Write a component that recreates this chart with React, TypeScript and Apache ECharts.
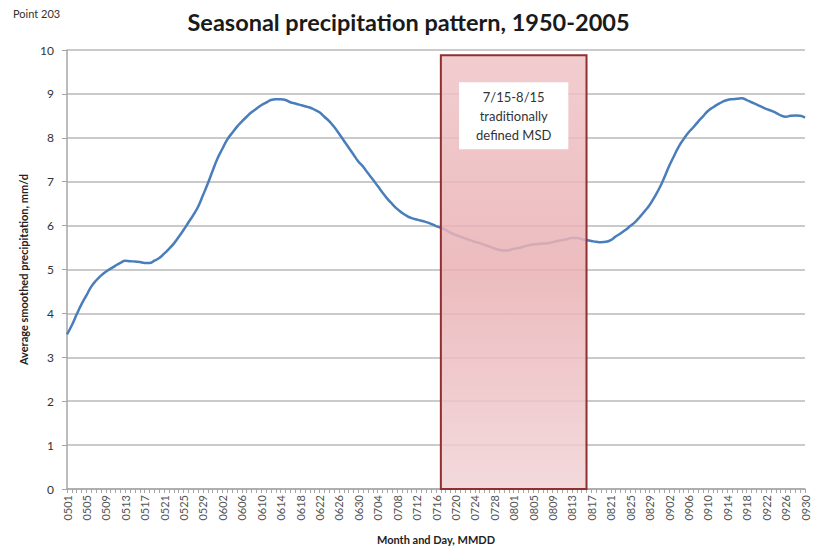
import React, { useEffect, useRef } from "react";
import * as echarts from "echarts";

const monthDays: [string, number][] = [["05", 31], ["06", 30], ["07", 31], ["08", 31], ["09", 30]];
const categories: string[] = [];
monthDays.forEach(([m, n]) => {
  for (let d = 1; d <= n; d++) categories.push(m + (d < 10 ? "0" + d : String(d)));
});

const precip: number[] = [
  3.52, 3.73, 3.98, 4.21, 4.41, 4.61, 4.75, 4.86, 4.95, 5.02,
  5.09, 5.15, 5.20, 5.19, 5.18, 5.17, 5.15, 5.15, 5.20, 5.26,
  5.36, 5.47, 5.59, 5.74, 5.90, 6.07, 6.24, 6.43, 6.69, 6.96,
  7.25, 7.53, 7.75, 7.96, 8.11, 8.25, 8.37, 8.48, 8.58, 8.66,
  8.74, 8.80, 8.86, 8.88, 8.88, 8.86, 8.81, 8.78, 8.75, 8.72,
  8.69, 8.64, 8.58, 8.48, 8.38, 8.25, 8.10, 7.94, 7.78, 7.62,
  7.46, 7.34, 7.19, 7.05, 6.90, 6.75, 6.61, 6.49, 6.38, 6.29,
  6.22, 6.17, 6.14, 6.11, 6.08, 6.04, 5.99, 5.95, 5.90, 5.84,
  5.79, 5.75, 5.71, 5.67, 5.63, 5.60, 5.56, 5.52, 5.48, 5.45,
  5.43, 5.44, 5.47, 5.49, 5.52, 5.55, 5.57, 5.58, 5.59, 5.60,
  5.62, 5.65, 5.67, 5.69, 5.72, 5.72, 5.69, 5.67, 5.65, 5.63,
  5.62, 5.63, 5.67, 5.75, 5.82, 5.90, 5.99, 6.08, 6.20, 6.33,
  6.47, 6.65, 6.85, 7.09, 7.35, 7.58, 7.80, 7.97, 8.12, 8.24,
  8.37, 8.49, 8.61, 8.69, 8.76, 8.82, 8.86, 8.88, 8.89, 8.90,
  8.86, 8.81, 8.76, 8.71, 8.66, 8.62, 8.57, 8.51, 8.48, 8.50,
  8.51, 8.50, 8.46,
];

const msdStart = "0717";
const msdEnd = "0816";
const msdTop = 9.88;
const msdLabel = "7/15-8/15\ntraditionally\ndefined MSD";

const FONT = "Lato, 'Open Sans', sans-serif";

export default function App() {
  const ref = useRef<HTMLDivElement>(null);
  useEffect(() => {
    if (!ref.current) return;
    const chart = echarts.init(ref.current, undefined, { renderer: "svg" });
    chart.setOption({
      animation: false,
      textStyle: { fontFamily: FONT },
      title: [
        {
          text: "Seasonal precipitation pattern, 1950-2005",
          left: "center",
          top: 5,
          textStyle: { fontSize: 23.5, fontWeight: "bold", color: "#1a1a1a", fontFamily: FONT },
        },
        {
          text: "Point 203",
          left: 8,
          top: 3,
          textStyle: { fontSize: 11, fontWeight: "normal", color: "#333", fontFamily: FONT },
        },
      ],
      grid: { left: 67, right: 12, top: 50, bottom: 58, containLabel: false, outerBoundsMode: "none" },
      xAxis: {
        type: "category",
        data: categories,
        boundaryGap: false,
        name: "Month and Day, MMDD",
        nameLocation: "middle",
        nameGap: 45,
        nameTextStyle: { fontSize: 11, fontWeight: "bold", color: "#222", fontFamily: FONT },
        axisLine: { lineStyle: { color: "#a6a6a6", width: 1.5 } },
        axisTick: { show: true, interval: 0, length: 4, lineStyle: { color: "#a6a6a6" } },
        axisLabel: { interval: 3, rotate: 90, fontSize: 11, color: "#555", margin: 6, fontFamily: FONT },
        splitLine: { show: false },
      },
      yAxis: {
        type: "value",
        min: 0,
        max: 10,
        interval: 1,
        name: "Average smoothed precipitation, mm/d",
        nameLocation: "middle",
        nameGap: 37,
        nameTextStyle: { fontSize: 11, fontWeight: "bold", color: "#222", fontFamily: FONT },
        axisLine: { show: true, lineStyle: { color: "#a6a6a6", width: 1.5 } },
        axisTick: { show: true, length: 5, lineStyle: { color: "#a6a6a6" } },
        axisLabel: { fontSize: 12, color: "#333", margin: 13, fontFamily: FONT },
        splitLine: { lineStyle: { color: "#b8b8b8", width: 1.5 } },
      },
      series: [
        {
          type: "line",
          data: precip,
          smooth: true,
          showSymbol: false,
          lineStyle: { color: "#4a7ebb", width: 2.5 },
          z: 2,
          markArea: {
            z: 10,
            silent: true,
            itemStyle: {
              color: {
                type: "linear",
                x: 0, y: 0, x2: 0, y2: 1,
                colorStops: [
                  { offset: 0, color: "rgba(239,196,199,0.85)" },
                  { offset: 0.5, color: "rgba(233,176,179,0.85)" },
                  { offset: 1, color: "rgba(241,211,214,0.85)" },
                ],
              },
              borderColor: "#8f2f2f",
              borderWidth: 2,
            },
            label: {
              show: true,
              position: "insideTop",
              distance: 28,
              formatter: msdLabel,
              backgroundColor: "#ffffff",
              padding: [5, 17],
              lineHeight: 19,
              fontSize: 13,
              color: "#333",
              fontFamily: FONT,
              align: "center",
            },
            data: [[{ xAxis: msdStart, yAxis: msdTop }, { xAxis: msdEnd, yAxis: 0 }]],
          },
        },
      ],
    });
    return () => chart.dispose();
  }, []);
  return <div ref={ref} style={{ width: 817, height: 547, position: "absolute", left: 0, top: 0 }} />;
}
